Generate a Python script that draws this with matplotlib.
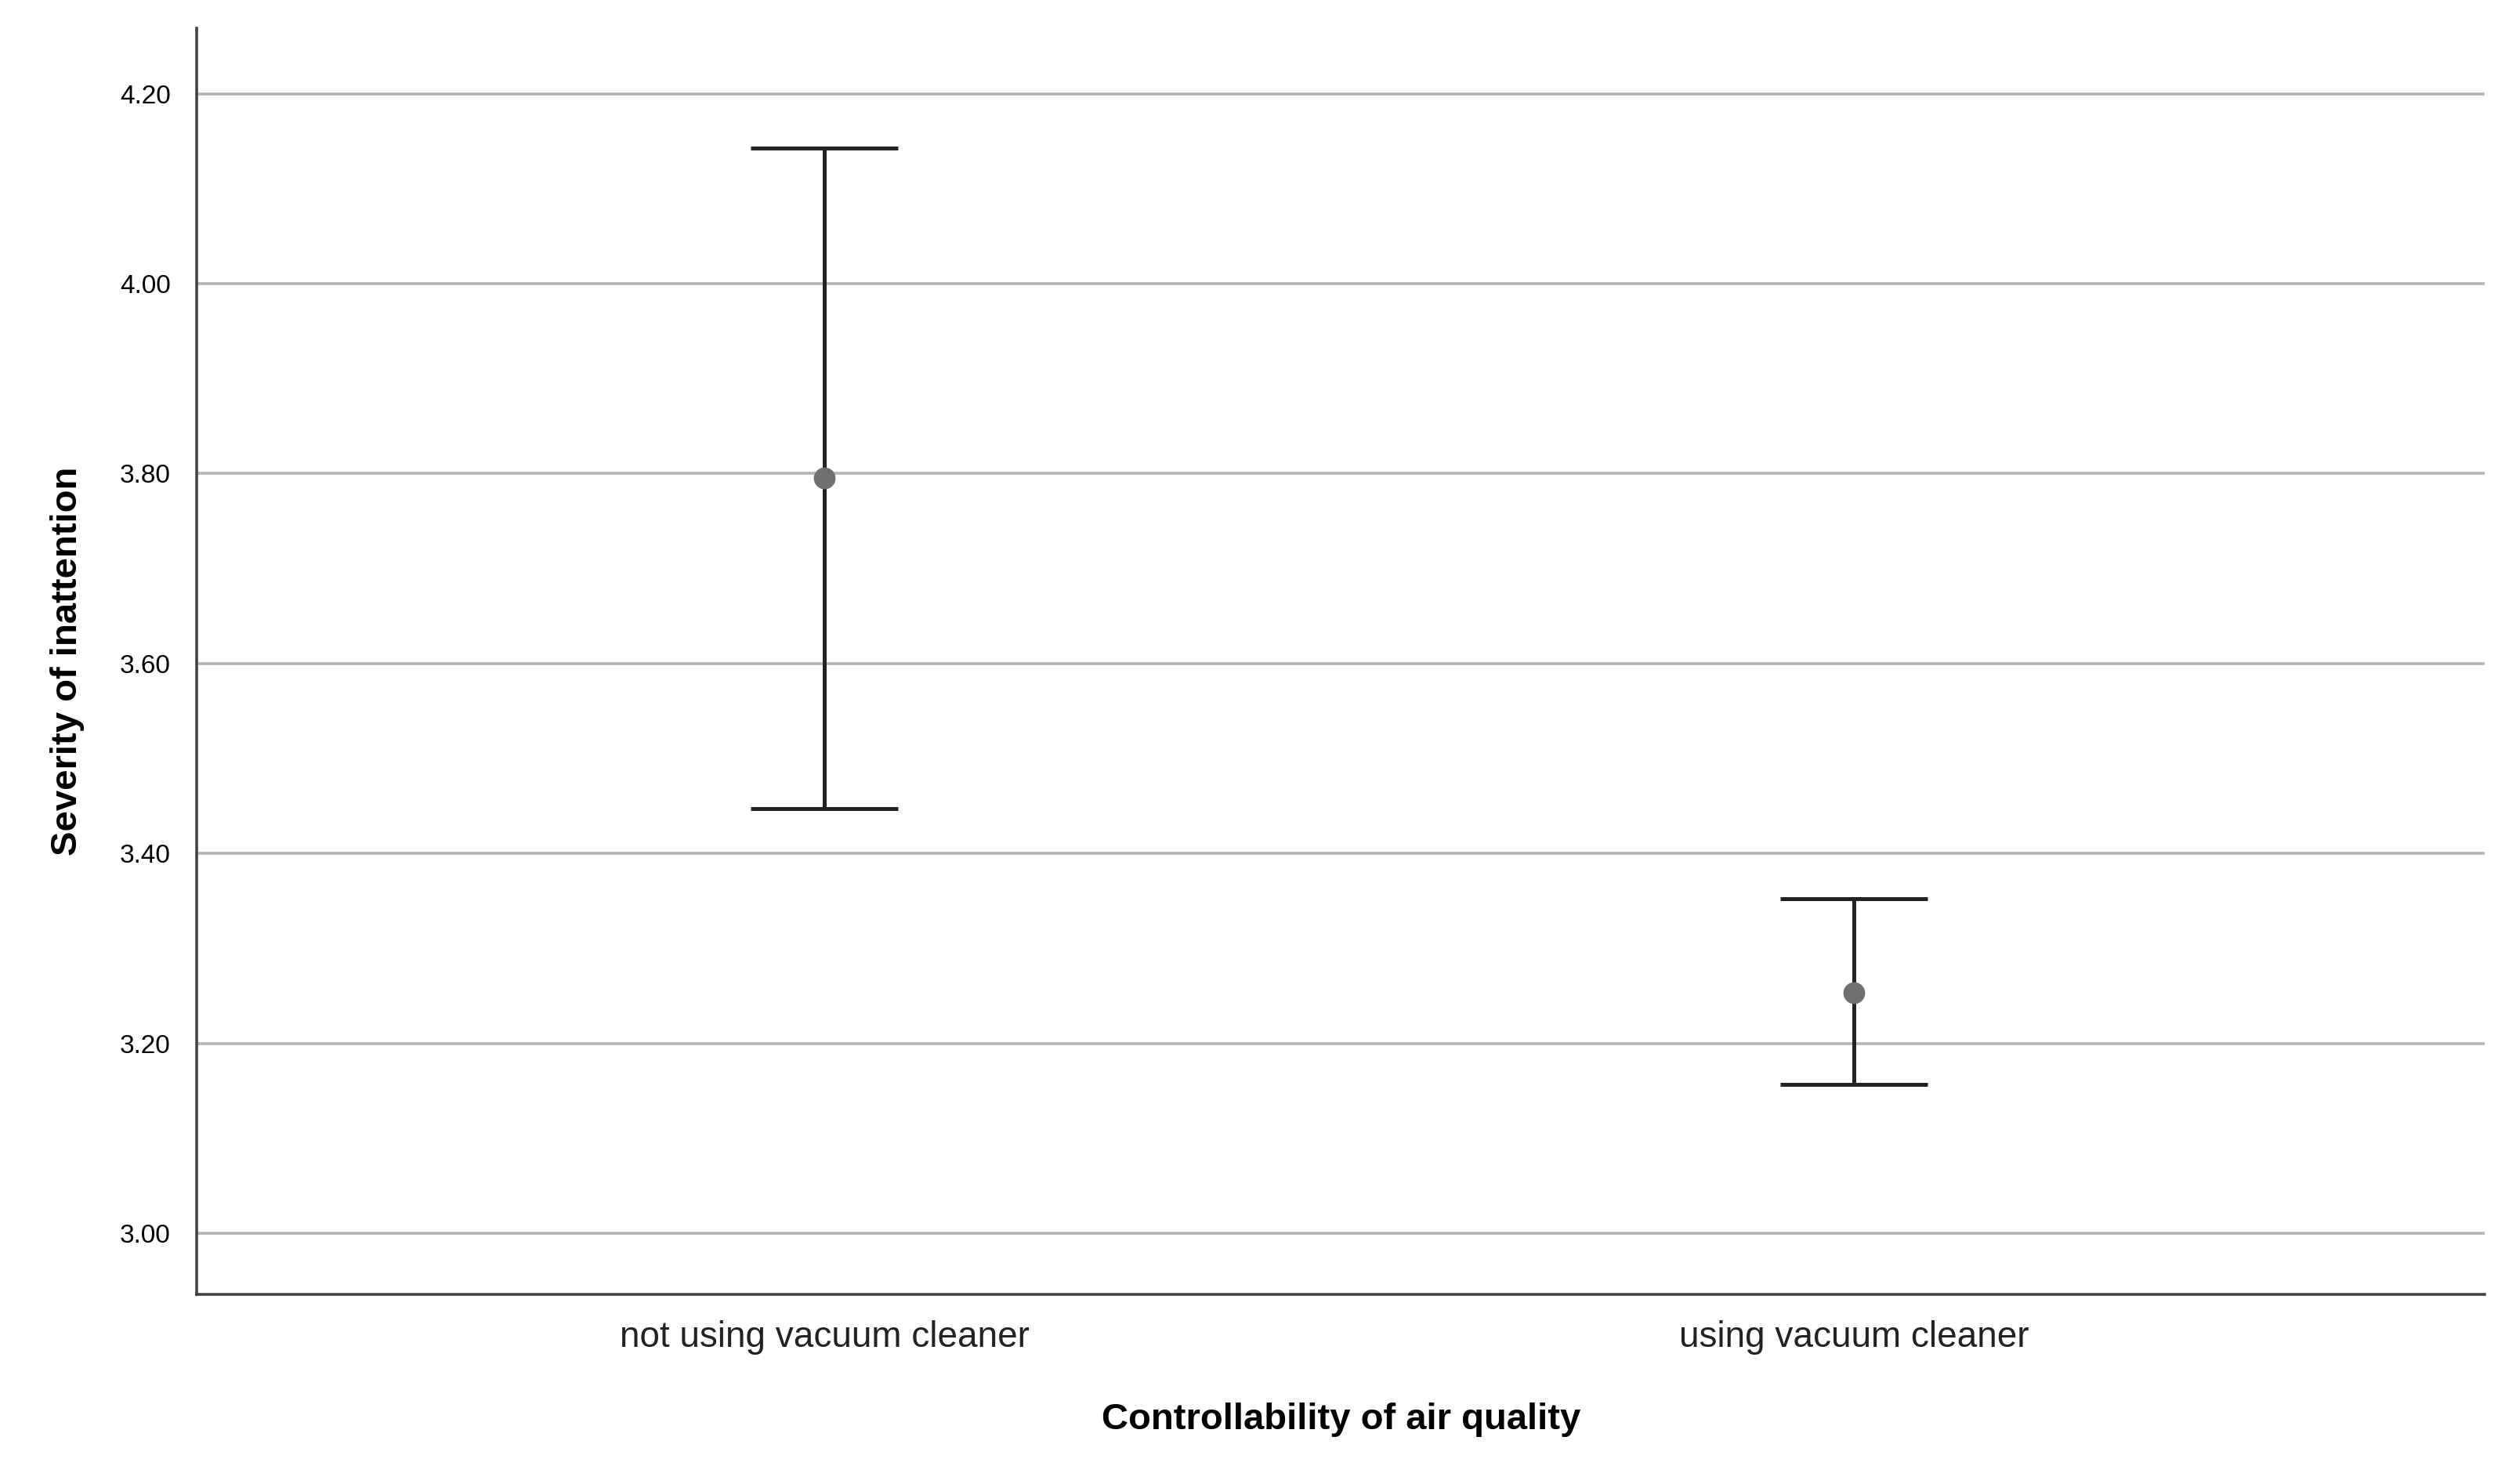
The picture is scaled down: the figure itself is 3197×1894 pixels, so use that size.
import matplotlib
matplotlib.use("Agg")
import matplotlib.pyplot as plt

categories = ["not using vacuum cleaner", "using vacuum cleaner"]
means = [3.795, 3.253]
lower = [3.447, 3.157]
upper = [4.143, 3.352]
yticks = [3.00, 3.20, 3.40, 3.60, 3.80, 4.00, 4.20]

plt.rcParams['font.family'] = ['Liberation Sans', 'DejaVu Sans']
fig = plt.figure(figsize=(15.985, 9.47), dpi=200)
ax = fig.add_axes([0.0785, 0.128, 0.9135, 0.853])
x = list(range(len(categories)))
for i in x:
    ax.errorbar(i, means[i], yerr=[[means[i]-lower[i]], [upper[i]-means[i]]],
                fmt='none', ecolor='#222222', elinewidth=1.8, capsize=34, capthick=1.8, zorder=3)
ax.plot(x, means, 'o', color='#707070', markersize=9, zorder=4)
ax.set_xlim(-0.61, 1.613)
ax.set_ylim(2.936, 4.269)
ax.set_yticks(yticks)
ax.set_yticklabels([f"{v:.2f}" for v in yticks], fontsize=12)
ax.set_xticks(x)
ax.set_xticklabels(categories, fontsize=16.5, color='#222222')
ax.tick_params(length=0, pad=12)
ax.grid(axis='y', color='#b4b4b4', linewidth=1.3)
ax.set_axisbelow(True)
for s in ['top', 'right']:
    ax.spines[s].set_visible(False)
for s in ['left', 'bottom']:
    ax.spines[s].set_color('#444444'); ax.spines[s].set_linewidth(1.3)
ax.set_xlabel("Controllability of air quality", fontsize=17, fontweight='bold', labelpad=22)
ax.set_ylabel("Severity of inattention", fontsize=17, fontweight='bold', labelpad=16)
fig.savefig("out.png", dpi=200)
